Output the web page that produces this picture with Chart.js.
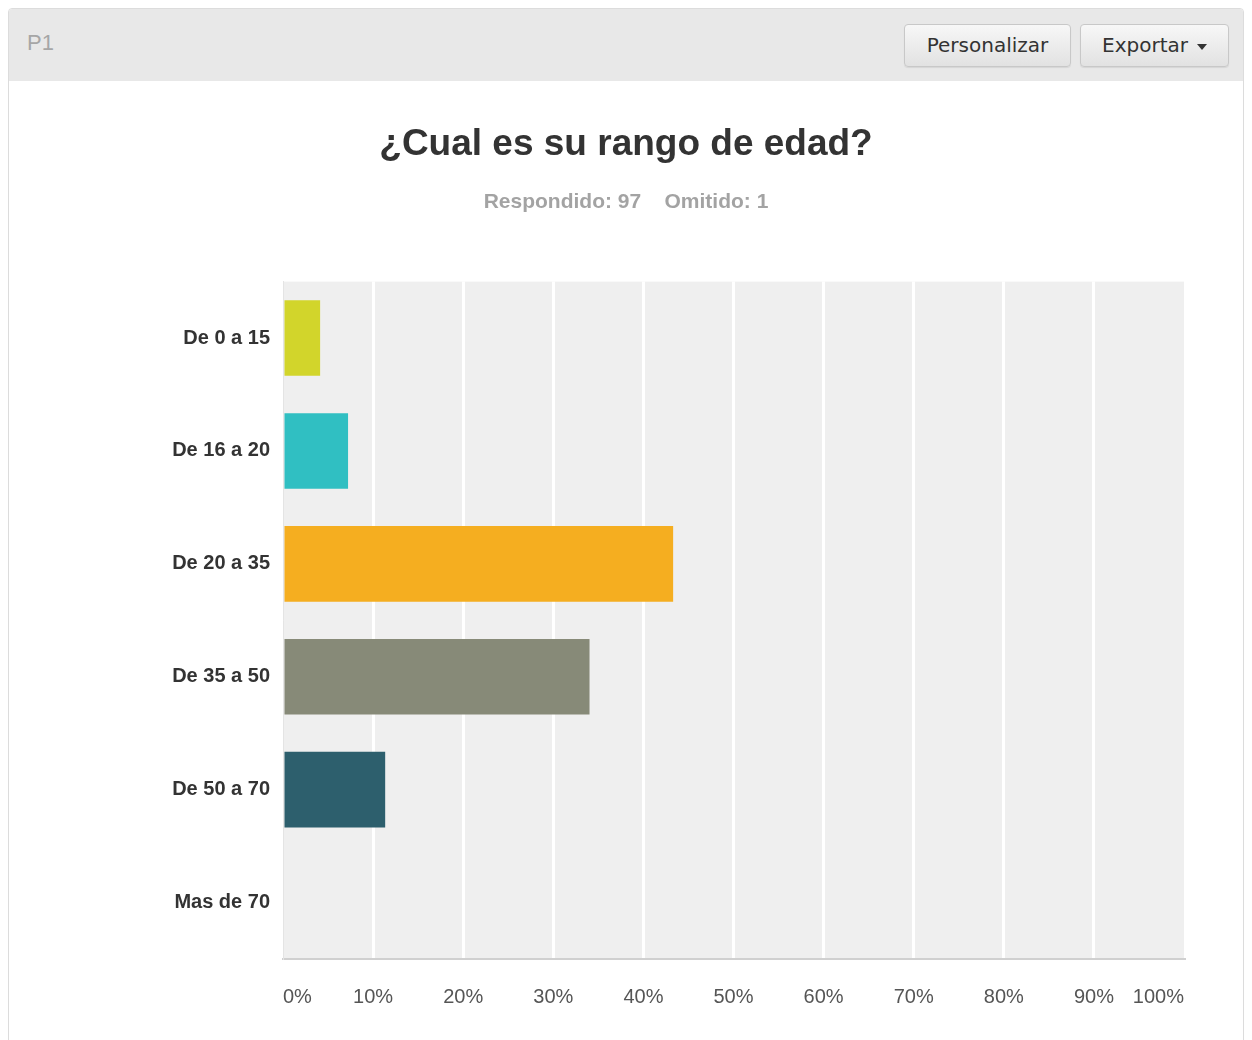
<!DOCTYPE html>
<html>
<head>
<meta charset="utf-8">
<script src="https://cdn.jsdelivr.net/npm/chart.js@4"></script>
<style>
  body { margin: 0; background: #fff; font-family: "Liberation Sans", Arial, sans-serif; }
  .panel { position: absolute; left: 8px; top: 8px; width: 1234px; height: 1040px; border: 1px solid #dcdcdc; border-radius: 4px; background: #fff; overflow: hidden; }
  .head { height: 72px; background: #e8e8e8; position: relative; }
  .head .q { position: absolute; left: 18px; top: 21px; font-size: 22px; color: #a6a6a6; }
  .btn { position: absolute; top: 15px; height: 41px; line-height: 41px; border: 1px solid #c8c8c8; border-radius: 4px;
         background: linear-gradient(#f7f7f7, #e2e2e2); color: #333; font-family: "DejaVu Sans", sans-serif; font-size: 20px;
         text-align: center; box-shadow: 0 1px 1px rgba(0,0,0,0.08); }
  .btn .caret { display: inline-block; width: 0; height: 0; border-left: 5px solid transparent; border-right: 5px solid transparent; border-top: 6px solid #333; vertical-align: middle; margin-left: 9px; }
  #wrap { position: relative; width: 1234px; height: 960px; }
</style>
</head>
<body>
<div class="panel">
  <div class="head">
    <span class="q">P1</span>
    <div class="btn" style="left:895px;width:165px;">Personalizar</div>
    <div class="btn" style="left:1071px;width:147px;">Exportar<span class="caret"></span></div>
  </div>
  <div id="wrap"><canvas id="myChart"></canvas></div>
</div>
<script>
// answers per age range, as % of 97 respondents
var categories = ['De 0 a 15', 'De 16 a 20', 'De 20 a 35', 'De 35 a 50', 'De 50 a 70', 'Mas de 70'];
var percentages = [4.12, 7.22, 43.30, 34.02, 11.34, 0];
var barColors = ['#d2d52b', '#30bfc2', '#f5ae20', '#878a78', '#2d5f6d', '#9b9b9b'];
var xTicks = [0, 10, 20, 30, 40, 50, 60, 70, 80, 90, 100];

// grey plot background behind the bars
var plotBg = {
    id: 'plotBg',
    beforeDraw: function(chart) {
        var a = chart.chartArea, c = chart.ctx;
        c.save();
        c.fillStyle = '#efefef';
        c.fillRect(a.left, a.top, a.right - a.left, a.bottom - a.top);
        c.restore();
    }
};

document.addEventListener('DOMContentLoaded', function() {
    var ctx = document.getElementById('myChart').getContext('2d');
    Chart.defaults.font.family = '"Liberation Sans", Arial, sans-serif';

    var myChart = new Chart(ctx, {
        type: 'bar',
        data: {
            labels: categories,
            datasets: [{
                data: percentages,
                backgroundColor: barColors,
                borderWidth: 0,
                barPercentage: 0.67,
                categoryPercentage: 1
            }]
        },
        options: {
            indexAxis: 'y',
            responsive: true,
            maintainAspectRatio: false,
            animation: false,
            plugins: {
                legend: { display: false },
                tooltip: { enabled: false },
                title: {
                    display: true,
                    text: '¿Cual es su rango de edad?',
                    color: '#333',
                    font: { size: 37, weight: 'bold', lineHeight: 1.2 },
                    padding: { top: 42, bottom: 15 }
                },
                subtitle: {
                    display: true,
                    text: 'Respondido: 97    Omitido: 1',
                    color: '#a3a3a3',
                    font: { size: 21, weight: 'bold', lineHeight: 1.2 },
                    padding: { top: 7, bottom: 67 }
                }
            },
            layout: {
                // equal side padding keeps the title centred on the panel
                padding: { left: 59, right: 59, top: 0, bottom: 6 }
            },
            scales: {
                x: {
                    min: 0,
                    max: 100,
                    afterBuildTicks: function(scale) {
                        scale.ticks = xTicks.map(function(v) { return { value: v }; });
                    },
                    ticks: {
                        callback: function(v) { return v + '%'; },
                        color: '#555',
                        font: { size: 20 },
                        padding: 26,
                        align: 'inner',
                        maxRotation: 0,
                        autoSkip: false
                    },
                    grid: {
                        color: function(c) {
                            var v = c.tick && c.tick.value;
                            return (v === 0 || v === 100) ? 'rgba(0,0,0,0)' : '#ffffff';
                        },
                        lineWidth: 3,
                        drawTicks: false
                    },
                    border: { color: '#d0d0d0', width: 2 }
                },
                y: {
                    afterFit: function(scale) { scale.width = 215; },
                    ticks: {
                        color: '#333',
                        font: { size: 20, weight: 'bold' },
                        padding: 13
                    },
                    grid: { display: false, drawTicks: false },
                    border: { color: '#e4e4e4', width: 1 }
                }
            }
        },
        plugins: [plotBg]
    });
});
</script>
</body>
</html>
